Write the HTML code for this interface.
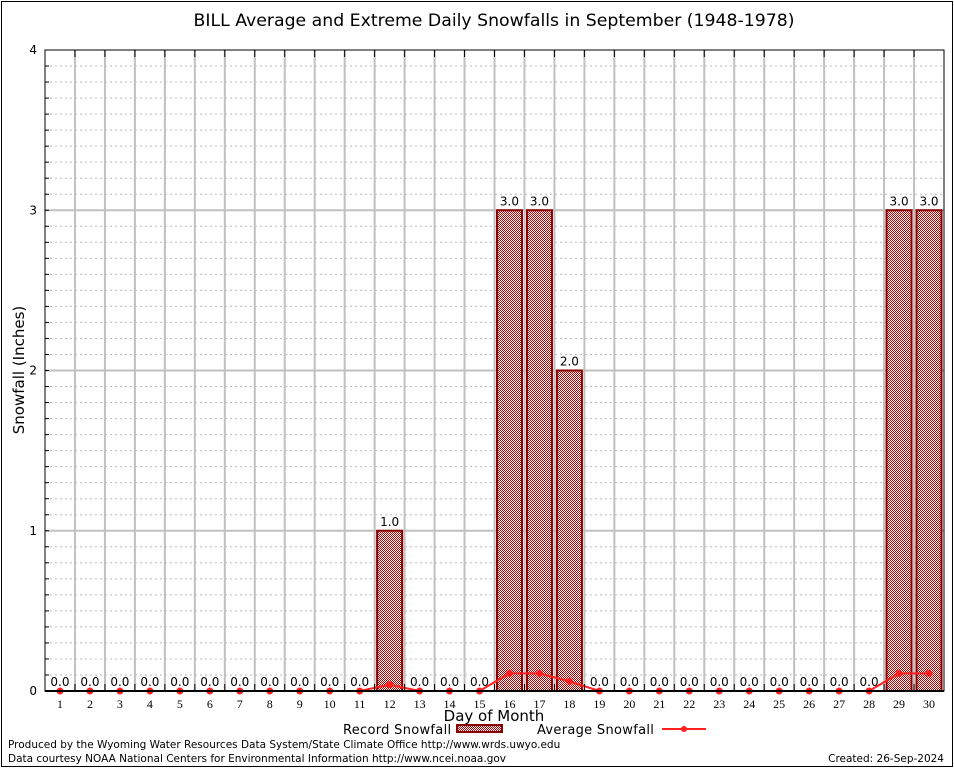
<!DOCTYPE html>
<html><head><meta charset="utf-8"><style>
body{margin:0;background:#fff;}
svg{display:block;font-family:"DejaVu Sans","Liberation Sans",sans-serif;}
</style></head><body>
<svg id="chart" width="954" height="768" viewBox="0 0 954 768">
<defs>
<pattern id="hatch" width="2" height="2" patternUnits="userSpaceOnUse">
<rect width="2" height="2" fill="#fff"/>
<rect width="1" height="1" fill="#b00000"/><rect x="1" y="1" width="1" height="1" fill="#b00000"/>
</pattern>
</defs>
<rect x="1.5" y="1.5" width="951" height="765" fill="none" stroke="#000"/>
<text x="494" y="26" font-size="17.3" text-anchor="middle" font-family="DejaVu Sans, sans-serif">BILL Average and Extreme Daily Snowfalls in September (1948-1978)</text>
<g id="grid"></g>
<g id="bars"></g>
<g id="avg"></g>
<g id="axes"></g>
<text transform="translate(24,370) rotate(-90)" font-size="15" text-anchor="middle">Snowfall (Inches)</text>
<text x="494" y="721" font-size="15" text-anchor="middle">Day of Month</text>
<g>
<text x="343" y="734" font-size="13" letter-spacing="0.3">Record Snowfall</text>
<rect x="457" y="725" width="45" height="7" fill="url(#hatch)" stroke="#8b0000" stroke-width="2"/>
<text x="537" y="734" font-size="13" letter-spacing="0.3">Average Snowfall</text>
<line x1="662" y1="729" x2="706" y2="729" stroke="#ff2020" stroke-width="2"/>
<circle cx="684" cy="729" r="3" fill="#ff2020"/>
</g>
<text x="8" y="748" font-size="10.5">Produced by the Wyoming Water Resources Data System/State Climate Office http://www.wrds.uwyo.edu</text>
<text x="8" y="762" font-size="10.5">Data courtesy NOAA National Centers for Environmental Information http://www.ncei.noaa.gov</text>
<text x="944" y="762" font-size="10.5" text-anchor="end">Created:  26-Sep-2024</text>
</svg>
<script>
const days=[1,2,3,4,5,6,7,8,9,10,11,12,13,14,15,16,17,18,19,20,21,22,23,24,25,26,27,28,29,30];
const recordVals=[0,0,0,0,0,0,0,0,0,0,0,1,0,0,0,3,3,2,0,0,0,0,0,0,0,0,0,0,3,3];
const avgVals=[0,0,0,0,0,0,0,0,0,0,0,0.04,0,0,0,0.11,0.11,0.06,0,0,0,0,0,0,0,0,0,0,0.11,0.11];
const yTicks=[0,1,2,3,4];
const NS="http://www.w3.org/2000/svg";
const L=45,R=944,T=50,B=691,yMax=4;
const step=(R-L)/days.length;
const x=d=>L+(d-0.5)*step;
const y=v=>B-(v/yMax)*(B-T);
function mk(p,tag,at){const e=document.createElementNS(NS,tag);for(const k in at)e.setAttribute(k,at[k]);p.appendChild(e);return e;}
const grid=document.getElementById('grid'),bars=document.getElementById('bars'),avg=document.getElementById('avg'),axes=document.getElementById('axes');
for(let i=1;i<40;i++){if(i%10===0)continue;const l=mk(grid,'line',{x1:L,x2:R,y1:y(i/10),y2:y(i/10),stroke:'#bbb','stroke-dasharray':'2,3','stroke-width':1});

}
for(let i=1;i<days.length;i++){const gx=L+i*step;const l=mk(grid,'line',{x1:gx,x2:gx,y1:T,y2:B,stroke:'#c0c0c0','stroke-width':2});


const t=mk(axes,'line',{x1:gx,x2:gx,y1:T,y2:T+7,stroke:'#000'});


const t2=mk(axes,'line',{x1:gx,x2:gx,y1:B,y2:B-7,stroke:'#000'});

}
yTicks.forEach(v=>{if(v>0&&v<yMax){const l=mk(grid,'line',{x1:L,x2:R,y1:y(v),y2:y(v),stroke:'#c0c0c0','stroke-width':2});

}
const t=mk(axes,'text',{x:L-8,y:y(v)+4,'font-size':12,'text-anchor':'end'});t.textContent=v;

});
for(let i=1;i<40;i++){const tk=mk(axes,'line',{x1:L,x2:L+4,y1:y(i/10),y2:y(i/10),stroke:'#000'});

}
const fr=mk(axes,'rect',{x:L,y:T,width:R-L,height:B-T,fill:'none',stroke:'#000','stroke-width':1});


days.forEach((d,i)=>{const v=recordVals[i];
if(v>0){const r=mk(bars,'rect',{x:x(d)-12.5,y:y(v),width:25,height:B-y(v),fill:'url(#hatch)',stroke:'#8b0000','stroke-width':2});

}
const t=mk(bars,'text',{x:x(d),y:y(v)-5,'font-size':12,'text-anchor':'middle'});t.textContent=v.toFixed(1);


const xl=mk(axes,'text',{x:x(d),y:B+17,'font-size':12,'text-anchor':'middle','font-family':'Liberation Serif, serif'});xl.textContent=d;

});
const base=mk(axes,'line',{x1:L,x2:R,y1:B,y2:B,stroke:'#000','stroke-width':2});


const pl=mk(avg,'polyline',{points:days.map((d,i)=>x(d)+','+y(avgVals[i])).join(' '),fill:'none',stroke:'#ff2020','stroke-width':2});


days.forEach((d,i)=>{const c=mk(avg,'circle',{cx:x(d),cy:y(avgVals[i]),r:3.5,fill:'#ff2020'});

});
</script>
</body></html>
